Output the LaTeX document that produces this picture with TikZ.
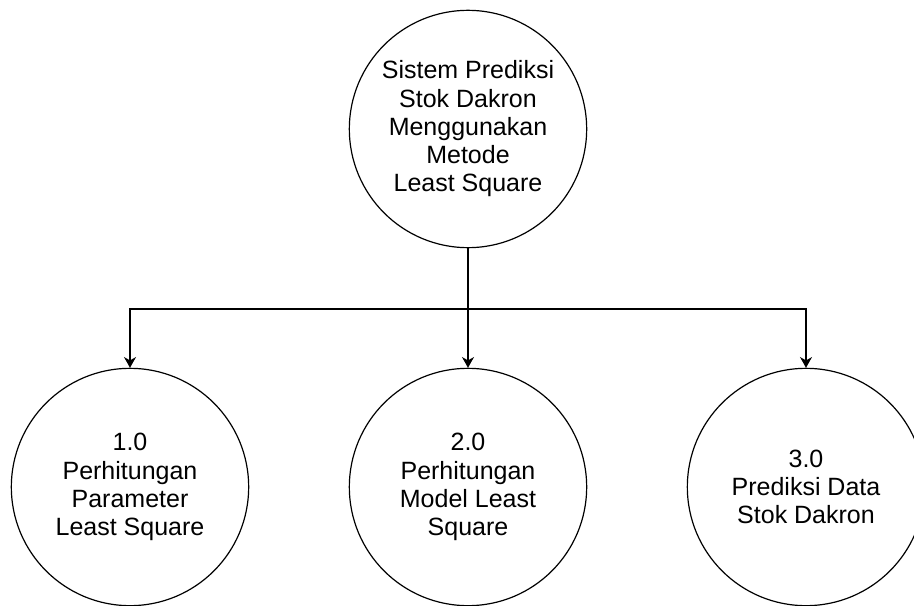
\documentclass[tikz,border=0pt]{standalone}
\usepackage{fontspec}
\setmainfont{Liberation Sans}
\usepackage{tikz}
\usetikzlibrary{arrows.meta}

\begin{document}
\begin{tikzpicture}[x=.75pt, y=-.75pt,
		proses/.style={draw, circle, line width=.9pt, minimum size=178pt, inner sep=0pt,
			align=center, font=\fontsize{18.75}{21.2}\selectfont},
		alur/.style={line width=.9pt, -{Stealth[length=8pt, width=9pt, inset=2.5pt]}}]
				\useasboundingbox (0,0) rectangle (914,606);
				\node[proses] (sistem) at (468,129) {Sistem Prediksi\\Stok Dakron\\Menggunakan\\Metode\\Least Square};
				\node[proses] (p1) at (130,487) {1.0\\Perhitungan\\Parameter\\Least Square};
				\node[proses] (p2) at (468,487) {2.0\\Perhitungan\\Model Least\\Square};
				\node[proses] (p3) at (806,487) {3.0\\Prediksi Data\\Stok Dakron};
				\coordinate (cabang) at (468,309);
				\draw[line width=.9pt] (sistem) -- (cabang);
				\foreach \p in {p1,p2,p3} {
					\draw[alur] (cabang) -| (\p.north);
				}
			\end{tikzpicture}
\end{document}
